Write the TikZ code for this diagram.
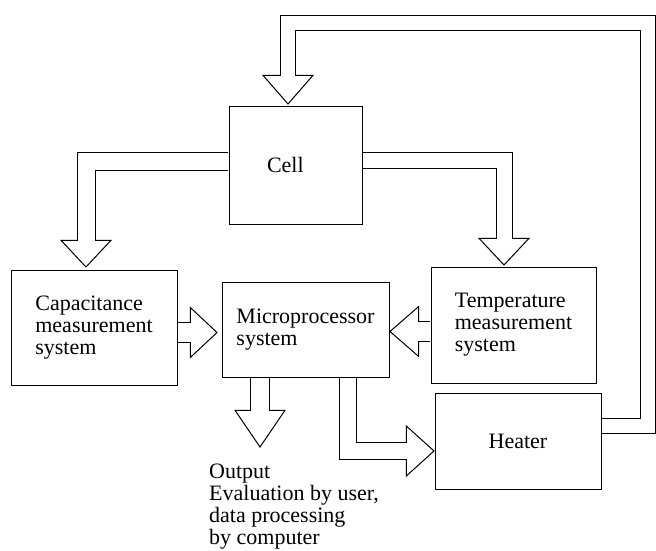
\documentclass[tikz,border=0pt]{standalone}
\usepackage{fontspec}
\setmainfont{Liberation Serif}
\tikzset{block/.style={draw, line width=1pt, inner sep=0pt, align=left, font=\fontsize{22}{22}\selectfont},
  shaft/.style={line width=1pt, double, double distance=#1, shorten <=0.6pt},
  shaft/.default=16pt,
  pics/head/.style={code={\draw[line width=1pt, fill=white] (-25,-0.7) -- (0,#1) -- (25,-0.7) -- cycle;}}}

\begin{document}
\begin{tikzpicture}[x=1pt,y=-1pt]
    \useasboundingbox (0,0) rectangle (656,551);

    \node[block, minimum width=133pt, minimum height=118pt, text width=57pt, inner xsep=38pt] at (295.5,165) (cell) {Cell};
    \node[block, minimum width=166pt, minimum height=115pt] at (94,327.5)    (cap)    {Capacitance\\measurement\\system};
    \node[block, minimum width=167pt, minimum height=95pt]  at (305.5,329.5) (micro)  {Microprocessor\\system};
    \node[block, minimum width=165pt, minimum height=116pt] at (513.5,325)   (temp)   {Temperature\\measurement\\system};
    \node[block, minimum width=166pt, minimum height=96pt]  at (518,441)     (heater) {Heater};
    \node[anchor=north west, inner sep=0pt, align=left, font=\fontsize{22}{22}\selectfont] at (209,464) (output)
        {Output\\Evaluation by user,\\data processing\\by computer};

    \coordinate (cellIn)   at (288,76);
    \coordinate (capIn)    at (86,241);
    \coordinate (tempIn)   at (504,239);
    \coordinate (microInL) at (191,332.5);
    \coordinate (microInR) at (418,331.5);
    \coordinate (outIn)    at (260,411);
    \coordinate (heaterIn) at (407,451);

    \pic at (cellIn) {head=28};
    \pic at (capIn) {head=26};
    \pic at (tempIn) {head=26};
    \pic[rotate=90] at (microInL) {head=26};
    \pic[rotate=-90] at (microInR) {head=28};
    \pic at (outIn) {head=36};
    \pic[rotate=90] at (heaterIn) {head=27};

    \draw[shaft=17pt] (cell.west |- 0,161.5) -| (capIn);
    \draw[shaft=15pt] (cell.east |- 0,160.5) -| (tempIn);
    \draw[shaft=19pt] (cap.east |- 0,332.5) -- (microInL);
    \draw[shaft=19pt] (temp.west |- 0,331.5) -- (microInR);
    \draw[shaft=18pt] (micro.south -| 260,0) -- (outIn);
    \draw[shaft=16pt] (micro.south -| 348,0) |- (heaterIn);
    \draw[shaft=14pt] (heater.east |- 0,426) -| (648,23) -| (cellIn);
\end{tikzpicture}
\end{document}
